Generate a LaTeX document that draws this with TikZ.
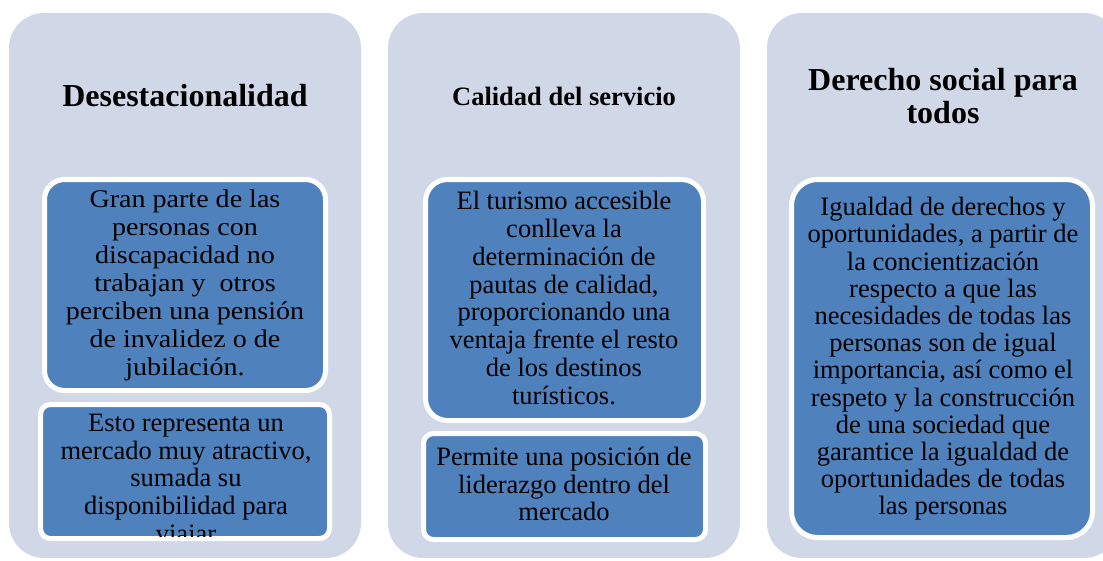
\documentclass[tikz,border=0pt]{standalone}
\usepackage{fontspec}
\setmainfont{LiberationSerif}[Extension=.ttf,UprightFont=*-Regular,BoldFont=*-Bold,ItalicFont=*-Italic,BoldItalicFont=*-BoldItalic]
\newfontfamily\cambriaish{LiberationSerif}[Extension=.ttf,UprightFont=*-Regular,BoldFont=*-Bold,FakeStretch=1.1]
\definecolor{panelfill}{HTML}{D0D8E8}
\definecolor{boxblue}{HTML}{4F81BD}
\begin{document}
\begin{tikzpicture}[x=1pt,y=-1pt,
  panelbox/.style={fill=panelfill, draw=none, rounded corners=35pt},
  bluebox/.style={fill=boxblue, draw=white, line width=5pt},
  titletext/.style={font=\bfseries\fontsize{32}{33.5}\selectfont, align=center, inner sep=0pt},
  smalltitle/.style={font=\bfseries\fontsize{26.5}{28}\selectfont, align=center, inner sep=0pt},
  bodytext/.style={font=\fontsize{26.5}{27.8}\selectfont, align=center, inner sep=0pt, text=black},
  cambriatext/.style={font=\cambriaish\fontsize{25.5}{28}\selectfont, align=center, inner sep=0pt, text=black}]
\useasboundingbox (0,0) rectangle (1103,560);
\clip (0,0) rectangle (1103,560);
% panels
\path[panelbox] (9,13) rectangle (361,558);
\path[panelbox] (388,13) rectangle (740,558);
\path[panelbox] (767,13) rectangle (1119,558);
% titles
\node[titletext] (ti1) at (185,96) {Desestacionalidad};
\node[smalltitle] (ti2) at (564,96) {Calidad del servicio};
\node[titletext] (ti3) at (943,96) {Derecho social para\\todos};
% panel 1 boxes
\path[bluebox, rounded corners=20pt] (44.5,179.5) rectangle (325.5,390.5);
\node[cambriatext] (t11) at (185,285) {Gran parte de las\\personas con\\discapacidad no\\trabajan y\ \ otros\\perciben una pensión\\de invalidez o de\\jubilación.};
\path[bluebox, rounded corners=10pt] (40.5,404.5) rectangle (329.5,538.5);
\begin{scope}
\clip[rounded corners=8pt] (43,407) rectangle (327,536);
\node[bodytext] (t12) at (186,481) {Esto representa un\\mercado muy atractivo,\\sumada su\\disponibilidad para\\viajar};
\end{scope}
% panel 2 boxes
\path[bluebox, rounded corners=22pt] (425.5,179.5) rectangle (703.5,420.5);
\node[bodytext] (t21) at (564,298) {El turismo accesible\\conlleva la\\determinación de\\pautas de calidad,\\proporcionando una\\ventaja frente el resto\\de los destinos\\turísticos.};
\path[bluebox, rounded corners=10pt] (423.5,433.5) rectangle (705.5,539.5);
\node[bodytext] (t22) at (564,484) {Permite una posición de\\liderazgo dentro del\\mercado};
% panel 3 box
\path[bluebox, rounded corners=26pt] (791.5,179.5) rectangle (1092.5,537.5);
\node[bodytext, font=\fontsize{26.5}{27.2}\selectfont] (t3) at (943,359) {Igualdad de derechos y\\oportunidades, a partir de\\la concientización\\respecto a que las\\necesidades de todas las\\personas son de igual\\importancia, así como el\\respeto y la construcción\\de una sociedad que\\garantice la igualdad de\\oportunidades de todas\\las personas};
\end{tikzpicture}
\end{document}
